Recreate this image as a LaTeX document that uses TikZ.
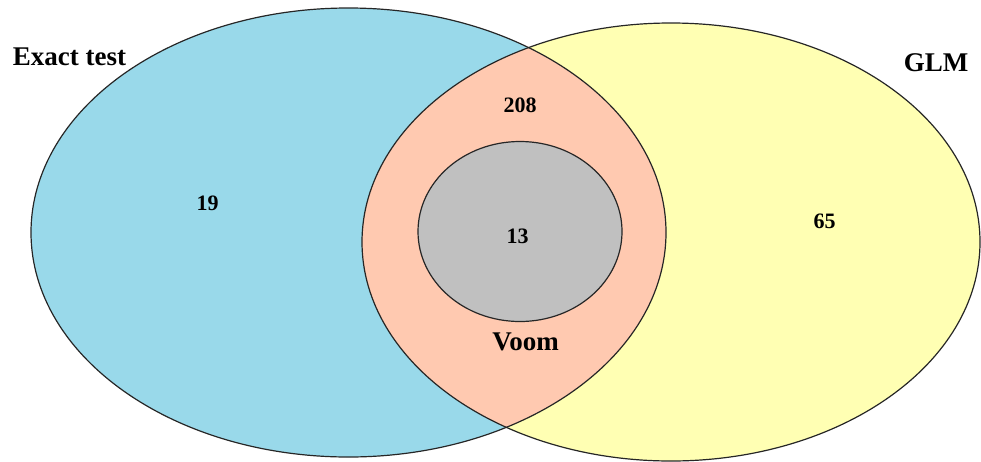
\documentclass[tikz,border=0pt]{standalone}
\usepackage{fontspec}
\setmainfont{Liberation Serif}
\definecolor{vblue}{RGB}{153,217,234}
\definecolor{vyellow}{RGB}{255,255,179}
\definecolor{vsalmon}{RGB}{255,201,176}
\definecolor{vgray}{RGB}{192,192,192}
\begin{document}
\begin{tikzpicture}[x=1pt,y=-1pt,
  outline/.style={draw=black!85,line width=1.2pt},
  biglabel/.style={font=\fontsize{27}{29}\selectfont\bfseries,inner sep=0pt,anchor=base},
  numlabel/.style={font=\fontsize{22}{24}\selectfont\bfseries,inner sep=0pt,anchor=base}]
\useasboundingbox (0,0) rectangle (981,461);
\fill[vblue] (348.5,232.5) ellipse [x radius=317.5pt, y radius=224.5pt];
\fill[vyellow] (671,242) ellipse [x radius=309pt, y radius=219pt];
\begin{scope}
  \clip (348.5,232.5) ellipse [x radius=317.5pt, y radius=224.5pt];
  \fill[vsalmon] (671,242) ellipse [x radius=309pt, y radius=219pt];
\end{scope}
\draw[outline] (348.5,232.5) ellipse [x radius=317.5pt, y radius=224.5pt];
\draw[outline] (671,242) ellipse [x radius=309pt, y radius=219pt];
\draw[outline,fill=vgray] (520,231.5) ellipse [x radius=102pt, y radius=90pt];
\node[biglabel] (exact) at (69.5,65) {Exact test};
\node[biglabel] (glm) at (936,71) {GLM};
\node[biglabel] (voom) at (525.5,350) {Voom};
\node[numlabel] (n19) at (207.5,210) {19};
\node[numlabel] (n208) at (520,112) {208};
\node[numlabel] (n13) at (517.5,243) {13};
\node[numlabel] (n65) at (824.5,228) {65};
\end{tikzpicture}
\end{document}
